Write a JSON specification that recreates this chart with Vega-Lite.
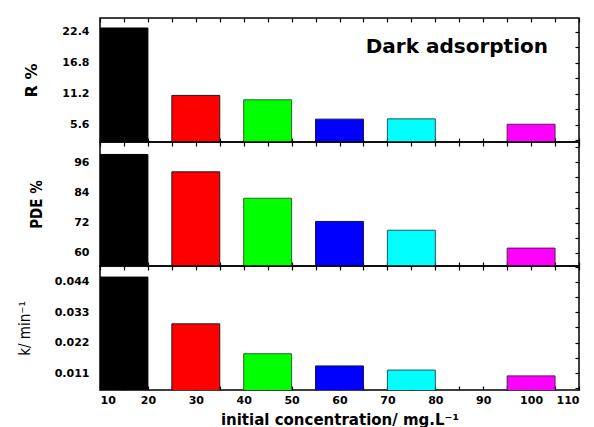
{
  "$schema": "https://vega.github.io/schema/vega-lite/v6.json",
  "padding": {"left": 16, "top": 16, "right": 15, "bottom": 3},
  "background": "white",
  "datasets": {
    "bars": [
      {"conc": "15", "start": 10, "end": 20, "R": 23.05, "PDE": 99.1, "k": 0.0457},
      {"conc": "30", "start": 25, "end": 35, "R": 10.9, "PDE": 92.2, "k": 0.0288},
      {"conc": "45", "start": 40, "end": 50, "R": 10.1, "PDE": 81.7, "k": 0.0180},
      {"conc": "60", "start": 55, "end": 65, "R": 6.62, "PDE": 72.5, "k": 0.0136},
      {"conc": "75", "start": 70, "end": 80, "R": 6.67, "PDE": 69.0, "k": 0.0121},
      {"conc": "100", "start": 95, "end": 105, "R": 5.7, "PDE": 61.9, "k": 0.0100}
    ],
    "note": [{"label": "Dark adsorption", "x": 84.5, "y": 19.6}]
  },
  "spacing": 0,
  "bounds": "flush",
  "vconcat": [
    {
      "width": 479, "height": 124,
      "layer": [
        {
          "data": {"name": "bars"},
          "mark": {"type": "bar", "clip": true, "strokeWidth": 1},
          "encoding": {
            "x": {"field": "start", "type": "quantitative", "scale": {"domain": [10, 110], "nice": false, "zero": false},
                  "axis": {"orient": "bottom", "labels": false, "title": null, "values": [10,15,20,25,30,35,40,45,50,55,60,65,70,75,80,85,90,95,100,105,110]}},
            "x2": {"field": "end"},
            "y": {"field": "R", "type": "quantitative", "scale": {"domain": [2.5, 24.85], "nice": false, "zero": false},
                  "axis": {"orient": "left", "values": [5.6, 11.2, 16.8, 22.4], "format": ".1f", "title": "R %", "titleFontWeight": "bold", "titleFontSize": 16, "titlePadding": 22}},
            "y2": {"datum": 0},
            "fill": {"field": "conc", "type": "nominal", "legend": null,
                     "scale": {"domain": ["15","30","45","60","75","100"], "range": ["#000000","#ff0000","#00ff00","#0000ff","#00ffff","#ff00ff"]}},
            "stroke": {"field": "conc", "type": "nominal", "legend": null,
                     "scale": {"domain": ["15","30","45","60","75","100"], "range": ["#000000","#1a1a1a","#1e6e1e","#10105a","#1a5a5a","#5a1a5a"]}}
          }
        },
        {
          "data": {"name": "bars"},
          "mark": {"type": "point", "opacity": 0},
          "encoding": {
            "x": {"field": "start", "type": "quantitative",
                  "axis": {"orient": "top", "labels": false, "title": null, "values": [10,15,20,25,30,35,40,45,50,55,60,65,70,75,80,85,90,95,100,105,110]}},
            "y": {"field": "R", "type": "quantitative",
                  "axis": {"orient": "right", "labels": false, "title": null, "values": [2.8, 5.6, 8.4, 11.2, 14, 16.8, 19.6, 22.4]}}
          }
        },
        {
          "data": {"name": "note"},
          "mark": {"type": "text", "font": "DejaVu Sans", "fontWeight": "bold", "fontSize": 20, "color": "black", "align": "center", "baseline": "middle"},
          "encoding": {
            "x": {"field": "x", "type": "quantitative", "axis": null},
            "y": {"field": "y", "type": "quantitative", "axis": null},
            "text": {"field": "label"}
          }
        }
      ],
      "resolve": {"axis": {"x": "independent", "y": "independent"}}
    },
    {
      "width": 479, "height": 124,
      "layer": [
        {
          "data": {"name": "bars"},
          "mark": {"type": "bar", "clip": true, "strokeWidth": 1},
          "encoding": {
            "x": {"field": "start", "type": "quantitative", "scale": {"domain": [10, 110], "nice": false, "zero": false},
                  "axis": {"orient": "bottom", "labels": false, "title": null, "values": [10,15,20,25,30,35,40,45,50,55,60,65,70,75,80,85,90,95,100,105,110]}},
            "x2": {"field": "end"},
            "y": {"field": "PDE", "type": "quantitative", "scale": {"domain": [54.8, 104.05], "nice": false, "zero": false},
                  "axis": {"orient": "left", "values": [60, 72, 84, 96], "format": "d", "title": "PDE %", "titleFont": "Liberation Sans Narrow, DejaVu Sans Condensed, sans-serif", "titleFontWeight": "bold", "titlePadding": 29}},
            "y2": {"datum": 0},
            "fill": {"field": "conc", "type": "nominal", "legend": null,
                     "scale": {"domain": ["15","30","45","60","75","100"], "range": ["#000000","#ff0000","#00ff00","#0000ff","#00ffff","#ff00ff"]}},
            "stroke": {"field": "conc", "type": "nominal", "legend": null,
                     "scale": {"domain": ["15","30","45","60","75","100"], "range": ["#000000","#1a1a1a","#1e6e1e","#10105a","#1a5a5a","#5a1a5a"]}}
          }
        },
        {
          "data": {"name": "bars"},
          "mark": {"type": "point", "opacity": 0},
          "encoding": {
            "x": {"field": "start", "type": "quantitative",
                  "axis": {"orient": "top", "labels": false, "title": null, "values": [10,15,20,25,30,35,40,45,50,55,60,65,70,75,80,85,90,95,100,105,110]}},
            "y": {"field": "PDE", "type": "quantitative",
                  "axis": {"orient": "right", "labels": false, "title": null, "values": [60, 66, 72, 78, 84, 90, 96, 102]}}
          }
        }
      ],
      "resolve": {"axis": {"x": "independent", "y": "independent"}}
    },
    {
      "width": 479, "height": 124,
      "layer": [
        {
          "data": {"name": "bars"},
          "mark": {"type": "bar", "clip": true, "strokeWidth": 1},
          "encoding": {
            "x": {"field": "start", "type": "quantitative", "scale": {"domain": [10, 110], "nice": false, "zero": false},
                  "axis": {"orient": "bottom", "title": "initial concentration/ mg.L⁻¹", "titleFontWeight": "bold", "titleFontSize": 15, "titlePadding": 7,
                           "values": [10,15,20,25,30,35,40,45,50,55,60,65,70,75,80,85,90,95,100,105,110],
                           "labelExpr": "datum.value % 10 == 0 ? datum.label : ''"}},
            "x2": {"field": "end"},
            "y": {"field": "k", "type": "quantitative", "scale": {"domain": [0.0049, 0.0497], "nice": false, "zero": false},
                  "axis": {"orient": "left", "values": [0.011, 0.022, 0.033, 0.044], "format": ".3f", "title": "k/ min⁻¹", "titleFont": "Liberation Sans Narrow, DejaVu Sans Condensed, sans-serif", "titleFontWeight": "normal", "titlePadding": 22}},
            "y2": {"datum": 0},
            "fill": {"field": "conc", "type": "nominal", "legend": null,
                     "scale": {"domain": ["15","30","45","60","75","100"], "range": ["#000000","#ff0000","#00ff00","#0000ff","#00ffff","#ff00ff"]}},
            "stroke": {"field": "conc", "type": "nominal", "legend": null,
                     "scale": {"domain": ["15","30","45","60","75","100"], "range": ["#000000","#1a1a1a","#1e6e1e","#10105a","#1a5a5a","#5a1a5a"]}}
          }
        },
        {
          "data": {"name": "bars"},
          "mark": {"type": "point", "opacity": 0},
          "encoding": {
            "x": {"field": "start", "type": "quantitative",
                  "axis": {"orient": "top", "labels": false, "title": null, "values": [10,15,20,25,30,35,40,45,50,55,60,65,70,75,80,85,90,95,100,105,110]}},
            "y": {"field": "k", "type": "quantitative",
                  "axis": {"orient": "right", "labels": false, "title": null, "values": [0.0055, 0.011, 0.0165, 0.022, 0.0275, 0.033, 0.0385, 0.044, 0.0495]}}
          }
        }
      ],
      "resolve": {"axis": {"x": "independent", "y": "independent"}}
    }
  ],
  "config": {
    "view": {"stroke": "black", "strokeWidth": 1.5},
    "axis": {
      "domain": false,
      "grid": false,
      "ticks": true,
      "tickSize": -4,
      "tickColor": "black",
      "tickWidth": 1.2,
      "labelFont": "DejaVu Sans",
      "labelFontWeight": "bold",
      "labelFontSize": 11,
      "labelColor": "black",
      "labelPadding": 14,
      "titleFont": "DejaVu Sans",
      "titleFontSize": 15,
      "titleColor": "black",
      "titlePadding": 14
    },
    "axisX": {"labelPadding": 8},
    "axisY": {"labelPadding": 15}
  }
}
